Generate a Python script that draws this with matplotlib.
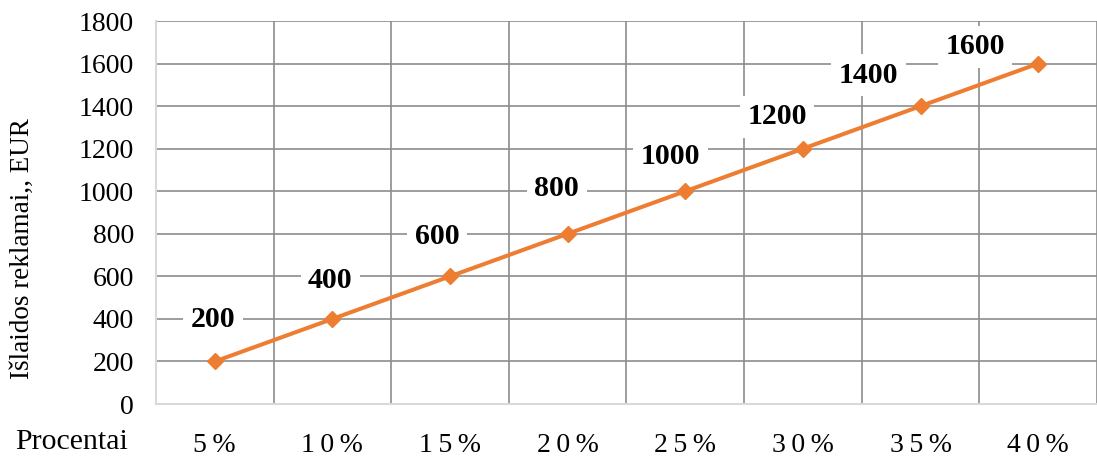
import numpy as np
from matplotlib import pyplot as plt

plt.rcParams['font.family'] = ['Liberation Serif', 'DejaVu Serif']

categories = ['5%', '10%', '15%', '20%', '25%', '30%', '35%', '40%']
spend = [200, 400, 600, 800, 1000, 1200, 1400, 1600]  # EUR

# where each data label sits relative to its point, in pixels
label_shift = [(-2, 42), (-2, 38), (-13, 40), (-11, 45), (-15, 35), (-26, 32), (-52, 31), (-63, 17)]

orange = '#ED7D31'

fig = plt.figure(figsize=(10.97, 4.63), dpi=100)
ax = fig.add_axes([0.1422, 0.1274, 0.8578, 0.8272])

x = np.arange(len(categories))
ax.plot(x, spend, color=orange, lw=2.9, marker='D', ms=8.5, zorder=3)

for xi, v, (dx, dy) in zip(x, spend, label_shift):
    ax.annotate(str(v), (xi, v), xytext=(dx, dy), textcoords='offset pixels',
                ha='center', va='center', fontsize=21.5, fontweight='bold',
                bbox=dict(boxstyle='square,pad=0.25', fc='white', ec='none'), zorder=4)

ax.set_xlim(-0.5, len(categories) - 0.5)
ax.set_ylim(0, 1800)
ax.set_yticks(np.arange(0, 1801, 200))
ax.set_xticks(x)
ax.set_xticklabels(['\u2009'.join(c) for c in categories])
ax.set_xticks(np.arange(-0.5, len(categories)), minor=True)

ax.grid(axis='y', which='major', color='#8c8c8c', lw=1.2)
ax.grid(axis='x', which='minor', color='#8c8c8c', lw=1.2)
ax.set_axisbelow(True)

ax.tick_params(axis='both', which='both', length=0, labelsize=20)
ax.tick_params(axis='y', pad=16)
ax.tick_params(axis='x', pad=21)
for s in ['top', 'right']:
    ax.spines[s].set_visible(False)
for s in ['left', 'bottom']:
    ax.spines[s].set_color('#d9d9d9')
    ax.spines[s].set_linewidth(1.5)

fig.text(0.02, 0.464, 'Išlaidos reklamai,, EUR', rotation=90, ha='center', va='center', fontsize=19.5)
fig.text(0.0137, 0.045, 'Procentai', ha='left', va='center', fontsize=21.5)

fig.savefig('out.png', dpi=100)
